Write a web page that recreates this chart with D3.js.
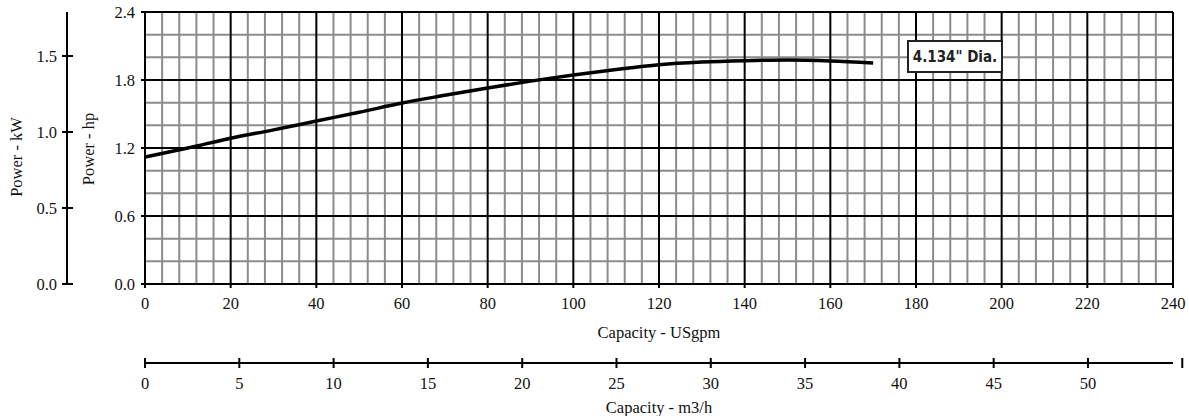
<!DOCTYPE html>
<html><head><meta charset="utf-8">
<script src="https://cdn.jsdelivr.net/npm/d3@7"></script>
<style>body{margin:0;background:#fff}svg text{font-family:"Liberation Serif","Times New Roman",serif;fill:#111}</style>
</head><body><svg id="c" width="1189" height="416"></svg>
<script>
const flowGpm = [0, 10, 20, 30, 40, 50, 60, 70, 80, 90, 100, 110, 120, 130, 140, 150, 160, 170];
const powerHp = [1.12, 1.20, 1.286, 1.36, 1.438, 1.515, 1.597, 1.665, 1.73, 1.79, 1.844, 1.893, 1.935, 1.958, 1.97, 1.976, 1.968, 1.95];
const gpmTicks = [0, 20, 40, 60, 80, 100, 120, 140, 160, 180, 200, 220, 240];
const m3hTicks = [0, 5, 10, 15, 20, 25, 30, 35, 40, 45, 50];
const hpTicks = [0.0, 0.6, 1.2, 1.8, 2.4];
const kwTicks = [0.0, 0.5, 1.0, 1.5];
const curveLabel = "4.134\" Dia.";

const svg = d3.select("#c");
const L = 145, R = 1173, T = 12, B = 284;
const FS = 16.5;
const x = d3.scaleLinear().domain([0, 240]).range([L, R]);
const y = d3.scaleLinear().domain([0, 2.4]).range([B, T]);
const GPM2M3H = 0.22712;
const xm = d3.scaleLinear().domain([0, 240 * GPM2M3H]).range([L, R]);
const HP2KW = 0.7457;
const yk = d3.scaleLinear().domain([0, 2.4 * HP2KW]).range([B, T]);

// minor grid
const g = svg.append("g");
const minorX = d3.range(0, 241, 4).filter(v => v % 20 !== 0);
const minorY = d3.range(0, 2.41, 0.2).map(v => +v.toFixed(2)).filter(v => Math.abs(v / 0.6 - Math.round(v / 0.6)) > 1e-6);
g.selectAll(".mx").data(minorX).join("line").attr("x1", d => x(d)).attr("x2", d => x(d)).attr("y1", T).attr("y2", B).attr("stroke", "#8c8c8c").attr("stroke-width", 2);
g.selectAll(".my").data(minorY).join("line").attr("x1", L).attr("x2", R).attr("y1", d => y(d)).attr("y2", d => y(d)).attr("stroke", "#8c8c8c").attr("stroke-width", 2);
// major grid
g.selectAll(".Mx").data(gpmTicks).join("line").attr("x1", d => x(d)).attr("x2", d => x(d)).attr("y1", T).attr("y2", B + 4).attr("stroke", "#000").attr("stroke-width", 2);
g.selectAll(".My").data(hpTicks).join("line").attr("x1", L - 4).attr("x2", R).attr("y1", d => y(d)).attr("y2", d => y(d)).attr("stroke", "#000").attr("stroke-width", 2);

// hp labels
svg.append("g").selectAll("text").data(hpTicks).join("text")
  .attr("x", L - 10).attr("y", d => y(d) + 6).attr("text-anchor", "end").attr("font-size", FS)
  .text(d => d.toFixed(1));
// gpm labels
svg.append("g").selectAll("text").data(gpmTicks).join("text")
  .attr("x", d => x(d)).attr("y", 309).attr("text-anchor", "middle").attr("font-size", FS)
  .text(d => d);
svg.append("text").attr("x", (L + R) / 2).attr("y", 338).attr("text-anchor", "middle").attr("font-size", FS).text("Capacity - USgpm");

// m3/h axis
const ma = svg.append("g");
ma.append("line").attr("x1", L).attr("x2", R).attr("y1", 363).attr("y2", 363).attr("stroke", "#000").attr("stroke-width", 2);
ma.selectAll(".t").data(m3hTicks.concat([55])).join("line").attr("x1", d => xm(d)).attr("x2", d => xm(d)).attr("y1", 358).attr("y2", 368).attr("stroke", "#000").attr("stroke-width", 2);
ma.selectAll("text").data(m3hTicks).join("text").attr("x", d => xm(d)).attr("y", 389).attr("text-anchor", "middle").attr("font-size", FS).text(d => d);
svg.append("text").attr("x", (L + R) / 2).attr("y", 413).attr("text-anchor", "middle").attr("font-size", FS).text("Capacity - m3/h");

// kW axis
const ka = svg.append("g");
ka.append("line").attr("x1", 67).attr("x2", 67).attr("y1", T).attr("y2", B).attr("stroke", "#000").attr("stroke-width", 2);
ka.selectAll(".t").data(kwTicks).join("line").attr("x1", 62).attr("x2", 73).attr("y1", d => yk(d)).attr("y2", d => yk(d)).attr("stroke", "#000").attr("stroke-width", 2);
ka.selectAll("text").data(kwTicks).join("text").attr("x", 57).attr("y", d => yk(d) + 6).attr("text-anchor", "end").attr("font-size", FS).text(d => d.toFixed(1));
svg.append("text").attr("transform", "translate(22,157) rotate(-90)").attr("text-anchor", "middle").attr("font-size", FS).text("Power - kW");
svg.append("text").attr("transform", "translate(94,149) rotate(-90)").attr("text-anchor", "middle").attr("font-size", FS).text("Power - hp");

// curve
const line = d3.line().x((d, i) => x(flowGpm[i])).y(d => y(d)).curve(d3.curveMonotoneX);
svg.append("path").attr("d", line(powerHp)).attr("fill", "none").attr("stroke", "#000").attr("stroke-width", 3.5);

// label
const lb = svg.append("g");
lb.append("rect").attr("x", 908).attr("y", 41).attr("width", 94).attr("height", 31).attr("fill", "#fff").attr("stroke", "#222").attr("stroke-width", 2);
lb.append("text").attr("x", 955).attr("y", 62).attr("text-anchor", "middle").attr("font-size", 15).attr("font-weight", "bold")
  .attr("style", "font-family:'DejaVu Sans Condensed','Roboto',sans-serif;fill:#222").text(curveLabel);
</script></body></html>
